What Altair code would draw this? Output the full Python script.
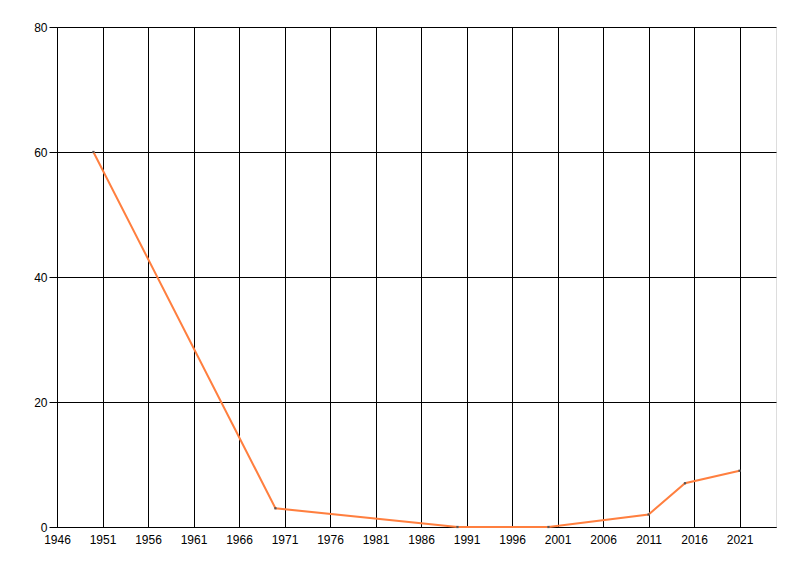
import altair as alt
import pandas as pd

years = [1950, 1970, 1990, 2000, 2011, 2015, 2021]
values = [60, 3, 0, 0, 2, 7, 9]
x_ticks = [1946, 1951, 1956, 1961, 1966, 1971, 1976, 1981, 1986, 1991, 1996, 2001, 2006, 2011, 2016, 2021]
y_ticks = [0, 20, 40, 60, 80]

df = pd.DataFrame({"year": years, "value": values})

x = alt.X("year:Q", scale=alt.Scale(domain=[1946, 2025], nice=False, zero=False),
          axis=alt.Axis(values=x_ticks, format="d", title=None, grid=True, gridColor="black",
                        gridOpacity=1, gridWidth=1, domainColor="black", domainWidth=1,
                        ticks=False, labelPadding=7, labelFont="Liberation Sans", labelFontSize=12,
                        labelColor="black", labelFlush=False))
y = alt.Y("value:Q", scale=alt.Scale(domain=[0, 80], nice=False),
          axis=alt.Axis(values=y_ticks, title=None, grid=True, gridColor="black", gridOpacity=1,
                        gridWidth=1, domainColor="black", tickColor="black", tickSize=8,
                        labelPadding=2, labelFont="Liberation Sans", labelFontSize=12,
                        labelColor="black"))

line = alt.Chart(df).mark_line(color="#FF7F3F", strokeWidth=2).encode(x=x, y=y)
pts = alt.Chart(df).mark_square(color="#555555", size=5, opacity=1).encode(x="year:Q", y="value:Q")

chart = (line + pts).properties(
    width=719, height=500,
    autosize=alt.AutoSizeParams(type="none"),
    padding={"left": 49, "top": 19, "right": 16, "bottom": 40},
).configure_view(stroke=None).configure(background="white")

chart.save("out.html", embed_options={"renderer": "svg", "actions": False})
